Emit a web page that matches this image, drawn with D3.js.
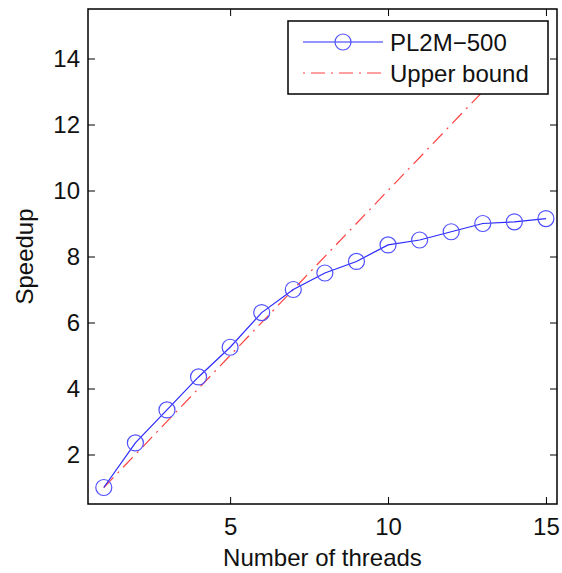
<!DOCTYPE html>
<html>
<head>
<meta charset="utf-8">
<script src="https://cdn.jsdelivr.net/npm/d3@7"></script>
<style>
  body { margin: 0; background: #fff; }
  text { font-family: "Liberation Sans", Arial, sans-serif; fill: #111; }
</style>
</head>
<body>
<div id="chart"></div>
<script>
var threads = [1, 2, 3, 4, 5, 6, 7, 8, 9, 10, 11, 12, 13, 14, 15];
var speedup = [1.0, 2.35, 3.35, 4.35, 5.25, 6.3, 7.0, 7.5, 7.85, 8.35, 8.5, 8.75, 9.0, 9.05, 9.15];
var boundX = [1, 15];
var boundY = [1, 15];
var xTicks = [5, 10, 15];
var yTicks = [2, 4, 6, 8, 10, 12, 14];
var seriesNames = ['PL2M\u2212500', 'Upper bound'];

var W = 562, H = 573;
var m = { left: 88, right: 5, top: 9, bottom: 69 };
var iw = W - m.left - m.right, ih = H - m.top - m.bottom;

var svg = d3.select('#chart').append('svg')
	.attr('width', W).attr('height', H);

var x = d3.scaleLinear().domain([0.5, 15.35]).range([0, iw]);
var y = d3.scaleLinear().domain([0.5, 15.5]).range([ih, 0]);

svg.append('defs').append('clipPath').attr('id', 'clip')
	.append('rect').attr('width', iw).attr('height', ih);

var g = svg.append('g').attr('transform', 'translate(' + m.left + ',' + m.top + ')');

// axes, ticks inward like matlab
var tk = 7;
var xb = g.append('g').attr('transform', 'translate(0,' + ih + ')')
	.call(d3.axisBottom(x).tickValues(xTicks).tickSizeInner(-tk).tickSizeOuter(0).tickPadding(14));
var xt = g.append('g')
	.call(d3.axisTop(x).tickValues(xTicks).tickSizeInner(-tk).tickSizeOuter(0).tickFormat(''));
var yl = g.append('g')
	.call(d3.axisLeft(y).tickValues(yTicks).tickSizeInner(-tk).tickSizeOuter(0).tickPadding(8));
var yr = g.append('g').attr('transform', 'translate(' + iw + ',0)')
	.call(d3.axisRight(y).tickValues(yTicks).tickSizeInner(-tk).tickSizeOuter(0).tickFormat(''));
[xb, xt, yl, yr].forEach(function (a) {
	a.select('.domain').remove();
	a.selectAll('line').attr('stroke', '#000');
	a.selectAll('text').style('font-size', '24px').attr('fill', '#111');
});

var plot = g.append('g').attr('clip-path', 'url(#clip)');

plot.append('path')
	.datum(boundX.map(function (d, i) { return [d, boundY[i]]; }))
	.attr('fill', 'none').attr('stroke', '#ff4040').attr('stroke-width', 1.2)
	.attr('stroke-dasharray', '14,6,2,6')
	.attr('d', d3.line().x(function (d) { return x(d[0]); }).y(function (d) { return y(d[1]); }));

var pts = threads.map(function (d, i) { return [d, speedup[i]]; });
plot.append('path').datum(pts)
	.attr('fill', 'none').attr('stroke', '#2a2aff').attr('stroke-width', 1.2)
	.attr('d', d3.line().x(function (d) { return x(d[0]); }).y(function (d) { return y(d[1]); }));
plot.selectAll('circle').data(pts).enter().append('circle')
	.attr('cx', function (d) { return x(d[0]); })
	.attr('cy', function (d) { return y(d[1]); })
	.attr('r', 8)
	.attr('fill', 'none').attr('stroke', '#5050ff').attr('stroke-width', 1.2);

g.append('rect').attr('width', iw).attr('height', ih)
	.attr('fill', 'none').attr('stroke', '#000').attr('stroke-width', 1.5);

// legend
var lg = svg.append('g').attr('transform', 'translate(288,21)');
lg.append('rect').attr('width', 260).attr('height', 73)
	.attr('fill', '#fff').attr('stroke', '#000').attr('stroke-width', 1.5);
lg.append('line').attr('x1', 15).attr('x2', 95).attr('y1', 21).attr('y2', 21)
	.attr('stroke', '#2a2aff').attr('stroke-width', 1.2);
lg.append('circle').attr('cx', 55).attr('cy', 21).attr('r', 8)
	.attr('fill', 'none').attr('stroke', '#5050ff').attr('stroke-width', 1.2);
lg.append('line').attr('x1', 15).attr('x2', 95).attr('y1', 52).attr('y2', 52)
	.attr('stroke', '#ff4040').attr('stroke-width', 1.2).attr('stroke-dasharray', '2,6,14,6');
lg.selectAll('text.lab').data(seriesNames).enter().append('text')
	.attr('x', 102).attr('y', function (d, i) { return 30 + i * 31; })
	.style('font-size', '24px').text(function (d) { return d; });

// axis titles
svg.append('text').attr('x', m.left + iw / 2).attr('y', 566)
	.attr('text-anchor', 'middle').style('font-size', '24px').text('Number of threads');
svg.append('text').attr('transform', 'translate(33,' + (m.top + ih / 2) + ') rotate(-90)')
	.attr('text-anchor', 'middle').style('font-size', '24px').text('Speedup');
</script>
</body>
</html>
